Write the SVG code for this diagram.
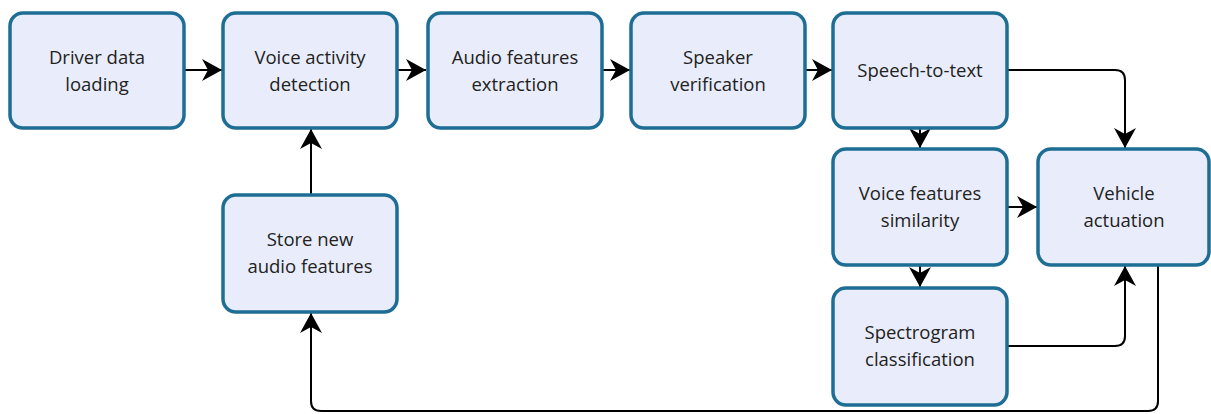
<svg xmlns="http://www.w3.org/2000/svg" width="1211" height="414" viewBox="0 0 1211 414">
<style>
.box{fill:#e9edfb;stroke:#1d6d95;stroke-width:3.5}
.lbl{font-family:"Open Sans","Noto Sans",sans-serif;font-size:18.5px;fill:#222;text-anchor:middle}
.con{fill:none;stroke:#000;stroke-width:2}
</style>
<defs>
<marker id="ah" viewBox="0 0 20 22" refX="20" refY="11" markerWidth="20" markerHeight="22" markerUnits="userSpaceOnUse" orient="auto">
<path d="M0,0 L20,11 L0,22 L6,11 Z" fill="#000"/>
</marker>
</defs>
<rect width="1211" height="414" fill="#fff"/>
<g id="connectors">
<path class="con" d="M184,70 H222" marker-end="url(#ah)"/>
<path class="con" d="M397,70 H426" marker-end="url(#ah)"/>
<path class="con" d="M602,70 H630" marker-end="url(#ah)"/>
<path class="con" d="M805,70 H832" marker-end="url(#ah)"/>
<path class="con" d="M1007,70 H1115 Q1125,70 1125,80 V148" marker-end="url(#ah)"/>
<path class="con" d="M920,128 V148" marker-end="url(#ah)"/>
<path class="con" d="M1007,207 H1037" marker-end="url(#ah)"/>
<path class="con" d="M920,265 V287" marker-end="url(#ah)"/>
<path class="con" d="M1007,346 H1115 Q1125,346 1125,336 V266" marker-end="url(#ah)"/>
<path class="con" d="M1158,265 V401 Q1158,411 1148,411 H321 Q311,411 311,401 V313" marker-end="url(#ah)"/>
<path class="con" d="M311,194 V129" marker-end="url(#ah)"/>
</g>
<g id="n1"><rect class="box" x="10" y="13" width="174" height="115" rx="13"/>
<text class="lbl" x="97" y="64">Driver data</text><text class="lbl" x="97" y="91">loading</text></g>
<g id="n2"><rect class="box" x="223" y="13" width="174" height="115" rx="13"/>
<text class="lbl" x="310" y="64">Voice activity</text><text class="lbl" x="310" y="91">detection</text></g>
<g id="n3"><rect class="box" x="428" y="13" width="174" height="115" rx="13"/>
<text class="lbl" x="515" y="64">Audio features</text><text class="lbl" x="515" y="91">extraction</text></g>
<g id="n4"><rect class="box" x="631" y="13" width="174" height="115" rx="13"/>
<text class="lbl" x="718" y="64">Speaker</text><text class="lbl" x="718" y="91">verification</text></g>
<g id="n5"><rect class="box" x="833" y="13" width="174" height="115" rx="13"/>
<text class="lbl" x="920" y="77">Speech-to-text</text></g>
<g id="n6"><rect class="box" x="833" y="149" width="174" height="116" rx="13"/>
<text class="lbl" x="920" y="200">Voice features</text><text class="lbl" x="920" y="227">similarity</text></g>
<g id="n7"><rect class="box" x="1038" y="149" width="171" height="116" rx="13"/>
<text class="lbl" x="1124" y="200">Vehicle</text><text class="lbl" x="1124" y="227">actuation</text></g>
<g id="n8"><rect class="box" x="833" y="288" width="174" height="117" rx="13"/>
<text class="lbl" x="920" y="339">Spectrogram</text><text class="lbl" x="920" y="366">classification</text></g>
<g id="n9"><rect class="box" x="223" y="195" width="174" height="117" rx="13"/>
<text class="lbl" x="310" y="246">Store new</text><text class="lbl" x="310" y="273">audio features</text></g>
</svg>
